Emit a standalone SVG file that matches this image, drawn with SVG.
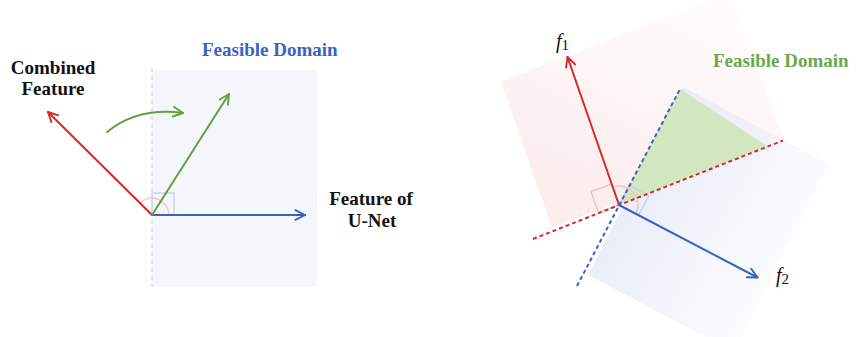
<svg xmlns="http://www.w3.org/2000/svg" width="856" height="337" viewBox="0 0 856 337">
<style>
.lbl{font-family:"Liberation Serif","Times New Roman",serif;font-weight:bold;font-size:19px}
.math{font-family:"Liberation Serif","Times New Roman",serif;font-size:19px}
.vec{fill:none;stroke-width:2;stroke-linecap:round}
.dot{fill:none;stroke-width:2;stroke-dasharray:4 3}
</style>
<defs>
<marker id="hr" viewBox="0 0 10 10" refX="9" refY="5" markerWidth="6" markerHeight="6" orient="auto" markerUnits="strokeWidth"><path d="M1,1 L9,5 L1,9" fill="none" stroke="#d42a2a" stroke-width="1.6" stroke-linecap="round" stroke-linejoin="round"/></marker>
<marker id="hb" viewBox="0 0 10 10" refX="9" refY="5" markerWidth="6" markerHeight="6" orient="auto" markerUnits="strokeWidth"><path d="M1,1 L9,5 L1,9" fill="none" stroke="#3a62c4" stroke-width="1.6" stroke-linecap="round" stroke-linejoin="round"/></marker>
<marker id="hg" viewBox="0 0 10 10" refX="9" refY="5" markerWidth="6" markerHeight="6" orient="auto" markerUnits="strokeWidth"><path d="M1,1 L9,5 L1,9" fill="none" stroke="#62a03c" stroke-width="1.6" stroke-linecap="round" stroke-linejoin="round"/></marker>
<linearGradient id="gp" gradientUnits="userSpaceOnUse" x1="620" y1="200" x2="700" y2="20">
<stop offset="0" stop-color="#fbe2e2" stop-opacity="0.6"/>
<stop offset="1" stop-color="#fbe2e2" stop-opacity="0.12"/>
</linearGradient>
<linearGradient id="gb" gradientUnits="userSpaceOnUse" x1="630" y1="200" x2="800" y2="300">
<stop offset="0" stop-color="#e6ebf8" stop-opacity="0.85"/>
<stop offset="1" stop-color="#e6ebf8" stop-opacity="0"/>
</linearGradient>
</defs>

<g id="left-domain">
<rect x="152" y="70" width="165" height="217" fill="#f4f6fc"/>
<line x1="152" y1="68" x2="152" y2="287" stroke="#dce3f2" stroke-width="2" stroke-dasharray="4 4"/>
<rect x="152" y="193" width="22" height="22" fill="none" stroke="#c9d5ef" stroke-width="1.5"/>
<path d="M140,203 A17,17 0 0 1 169,215" fill="none" stroke="#f4c6c6" stroke-width="1.5"/>
</g>

<g id="right-domain">
<polygon points="552,228 783,137 732,-9 501,82" fill="url(#gp)"/>
<polygon points="588,275 683,87 829,164 734,352" fill="url(#gb)"/>
<polygon points="619,205 680,89 767,146" fill="#d2e6bf"/>
<polygon points="591,191.5 611.7,184.2 619,205 598.2,212.3" fill="none" stroke="#f2c4c4" stroke-width="1.5"/>
<polygon points="638.5,215.2 648.7,195.7 629.2,185.5 619,205" fill="none" stroke="#c6d3ef" stroke-width="1.5"/>
<path d="M612.7,187.1 A19,19 0 0 1 635.8,213.8" fill="none" stroke="#f2c4c4" stroke-width="1.5"/>
</g>

<g id="connectors">
<line class="vec" x1="152" y1="215" x2="48" y2="112" stroke="#d42a2a" marker-end="url(#hr)"/>
<line class="vec" x1="152" y1="215" x2="305" y2="215" stroke="#3a62c4" marker-end="url(#hb)"/>
<line class="vec" x1="152" y1="215" x2="229" y2="94" stroke="#62a03c" marker-end="url(#hg)"/>
<path class="vec" d="M107,132 Q138,107 183,113" stroke="#62a03c" marker-end="url(#hg)"/>
<line class="dot" x1="533" y1="239" x2="783" y2="140.5" stroke="#d42a2a"/>
<line class="dot" x1="577" y1="286" x2="680" y2="89" stroke="#3a62c4"/>
<line class="vec" x1="619" y1="205" x2="567.5" y2="57" stroke="#d42a2a" marker-end="url(#hr)"/>
<line class="vec" x1="619" y1="205" x2="757.5" y2="277.5" stroke="#3a62c4" marker-end="url(#hb)"/>
</g>

<g id="labels">
<text class="lbl" x="53" y="73.5" text-anchor="middle" fill="#111">Combined</text>
<text class="lbl" x="53" y="95" text-anchor="middle" fill="#111">Feature</text>
<text class="lbl" x="202" y="56" fill="#3a62c4">Feasible Domain</text>
<text class="lbl" x="371" y="205" text-anchor="middle" fill="#111">Feature of</text>
<text class="lbl" x="372" y="227" text-anchor="middle" fill="#111">U-Net</text>
<text class="lbl" x="713" y="67" fill="#6aa84f">Feasible Domain</text>
<text class="math" x="556" y="48" fill="#111"><tspan font-style="italic" font-size="20">f</tspan><tspan font-size="15" dy="2">1</tspan></text>
<text class="math" x="776" y="282" fill="#111"><tspan font-style="italic" font-size="20">f</tspan><tspan font-size="15" dy="2">2</tspan></text>
</g>
</svg>
